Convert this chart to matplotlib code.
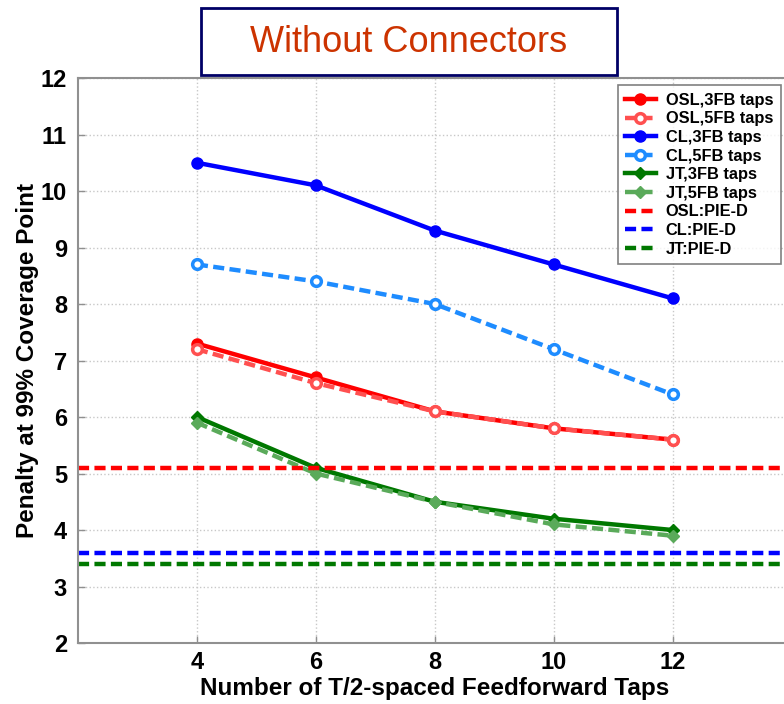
import matplotlib
matplotlib.use("Agg")
import matplotlib.pyplot as plt
from matplotlib.patches import Rectangle

plt.rcParams["font.family"] = ["Liberation Sans", "DejaVu Sans"]

taps = [4, 6, 8, 10, 12]
osl_3fb = [7.3, 6.7, 6.1, 5.8, 5.6]
osl_5fb = [7.2, 6.6, 6.1, 5.8, 5.6]
cl_3fb = [10.5, 10.1, 9.3, 8.7, 8.1]
cl_5fb = [8.7, 8.4, 8.0, 7.2, 6.4]
jt_3fb = [6.0, 5.1, 4.5, 4.2, 4.0]
jt_5fb = [5.9, 5.0, 4.5, 4.1, 3.9]
pie_d = {"OSL": 5.1, "CL": 3.6, "JT": 3.4}

fig = plt.figure(figsize=(7.84, 7.04), dpi=100)
ax = fig.add_axes([0.0995, 0.0866, 0.91, 0.8026])

solid = dict(lw=3.2, ms=8)
dashed = dict(lw=3.2, ms=7, ls=(0, (2.5, 1.2)), mfc="white", mew=2.5)
ax.plot(taps, osl_3fb, "-o", color="#ff0000", label="OSL,3FB taps", **solid)
ax.plot(taps, osl_5fb, marker="o", color="#ff5050", label="OSL,5FB taps", **dashed)
ax.plot(taps, cl_3fb, "-o", color="#0000ff", label="CL,3FB taps", **solid)
ax.plot(taps, cl_5fb, marker="o", color="#1e8cff", label="CL,5FB taps", **dashed)
ax.plot(taps, jt_3fb, "-D", color="#007800", label="JT,3FB taps", lw=3.2, ms=6)
ax.plot(taps, jt_5fb, marker="D", color="#5aaa5a", label="JT,5FB taps",
        lw=3.2, ms=6, ls=(0, (2.5, 1.2)))
for name, color in zip(pie_d, ["#ff0000", "#0000ff", "#007800"]):
    ax.axhline(pie_d[name], color=color, lw=3.2, ls=(0, (2.5, 1.2)), label=f"{name}:PIE-D")

ax.set_xlim(2, 14)
ax.set_ylim(2, 12)
ax.set_xticks(taps)
ax.set_yticks(range(2, 13))
ax.grid(True, ls=":", color="#c8c8c8", lw=1)
for s in ax.spines.values():
    s.set_color("#909090")
    s.set_linewidth(1.5)
ax.tick_params(colors="#909090", labelcolor="black", labelsize=17, length=5, width=1,
               direction="in")
for lbl in ax.get_xticklabels() + ax.get_yticklabels():
    lbl.set_fontweight("bold")
ax.tick_params(axis="x", pad=6)
ax.tick_params(axis="y", pad=8)
ax.set_xlabel("Number of T/2-spaced Feedforward Taps", fontsize=17.5, fontweight="bold", labelpad=2)
ax.set_ylabel("Penalty at 99% Coverage Point", fontsize=17.5, fontweight="bold", labelpad=1)

leg = ax.legend(loc="upper right", bbox_to_anchor=(0.985, 0.987),
                prop={"weight": "bold", "size": 11.8}, frameon=True, fancybox=False,
                handlelength=1.9, labelspacing=0.22, borderpad=0.45, borderaxespad=0,
                handletextpad=0.6)
leg.get_frame().set_edgecolor("#606060")
leg.get_frame().set_linewidth(1.2)

fig.patches.append(Rectangle((201 / 784, 1 - 75 / 704), 416 / 784, 67 / 704,
                             transform=fig.transFigure, fill=True, fc="white",
                             ec="#000066", lw=2))
fig.text(409 / 784, 1 - 42 / 704, "Without Connectors", color="#cc3300",
         fontsize=26, ha="center", va="center")

fig.savefig("out.png", dpi=100)
